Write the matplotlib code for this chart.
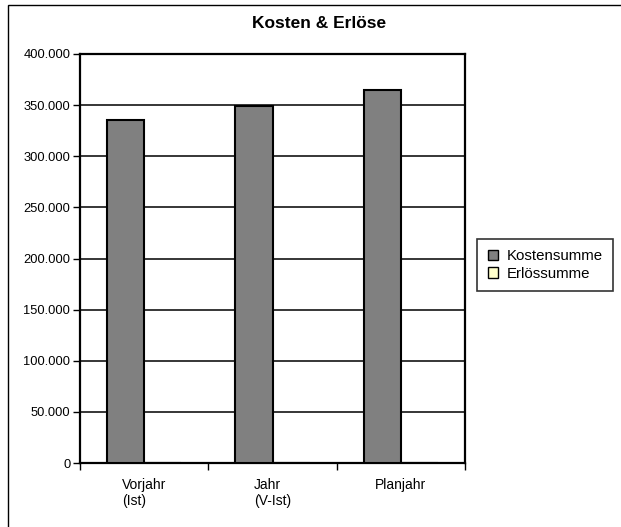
import numpy as np
import matplotlib.pyplot as plt
from matplotlib.patches import Rectangle

plt.rcParams['font.family'] = ['Liberation Sans', 'DejaVu Sans']

# Chart data
categories = ["Vorjahr\n(Ist)", "Jahr\n(V-Ist)", "Planjahr"]
kostensumme = [335000, 349000, 365000]
erloessumme = [0, 0, 0]
y_ticks = np.arange(0, 400001, 50000)

fig = plt.figure(figsize=(6.21, 5.27), dpi=100)
ax = fig.add_axes([80 / 621, 1 - 463 / 527, 385 / 621, 409 / 527])

# Outer chart frame (runs past the right and bottom edges)
fig.patches.append(Rectangle((8 / 621, -0.2), 1.5, 1.2 - 4.5 / 527,
                             transform=fig.transFigure, fill=False,
                             edgecolor="black", linewidth=1.0, zorder=0))

x = np.arange(len(categories))
w = 0.29
ax.bar(x + 0.5 - w / 2, kostensumme, width=w, color="#808080",
       edgecolor="black", linewidth=1.5, label="Kostensumme", zorder=3)
ax.bar(x + 0.5 + w / 2, erloessumme, width=w, color="#FFFFCC",
       edgecolor="black", linewidth=1.5, label="Erlössumme", zorder=3)

ax.set_xlim(0, len(categories))
ax.set_ylim(0, 400000)
ax.set_yticks(y_ticks)
ax.set_yticklabels([f"{v:,}".replace(",", ".") for v in y_ticks])
ax.yaxis.grid(True, color="black", linewidth=1.1, zorder=1)
ax.set_axisbelow(True)

# Category boundary ticks, labels centred in each slot
ax.set_xticks(np.arange(len(categories) + 1))
ax.set_xticklabels([])
ax.set_xticks(x + 0.5, minor=True)
ax.set_xticklabels(categories, minor=True, fontsize=10,
                   multialignment="left", linespacing=1.15)
ax.tick_params(axis="x", which="minor", length=0, pad=11)
ax.tick_params(axis="x", which="major", length=5, width=1, direction="out")
ax.tick_params(axis="y", length=5, width=1, direction="out", labelsize=9.3,
               pad=2)

for s in ax.spines.values():
    s.set_linewidth(1.6)
    s.set_color("black")

fig.text(319 / 621, 1 - 23 / 527, "Kosten & Erlöse", ha="center",
         va="center", fontsize=12.5, fontweight="bold")

leg = fig.legend(loc="center left", bbox_to_anchor=(477 / 621, 1 - 265 / 527),
                 fontsize=10.8, frameon=True, fancybox=False,
                 handlelength=0.7, handleheight=0.7, handletextpad=0.55,
                 borderpad=0.7, labelspacing=0.25, borderaxespad=0)
leg.get_frame().set_edgecolor("black")
leg.get_frame().set_linewidth(1.2)
for h in leg.legend_handles:
    h.set_linewidth(1.0)

fig.savefig("out.png", dpi=100)
